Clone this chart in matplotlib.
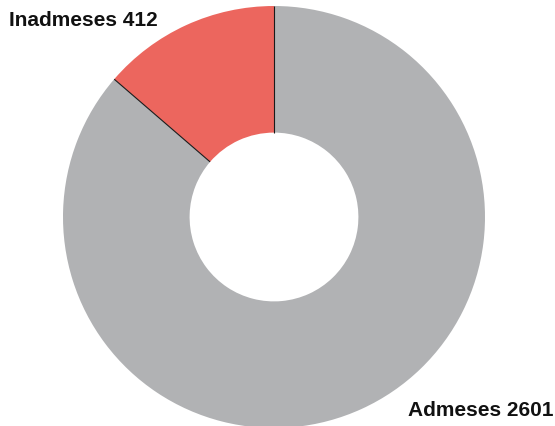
import matplotlib
matplotlib.use('Agg')
import matplotlib.pyplot as plt
import numpy as np

# datos
labels = ['Inadmeses', 'Admeses']
values = [412, 2601]
colors = ['#ec665e', '#b1b2b4']

plt.rcParams['font.family'] = ['Liberation Sans', 'DejaVu Sans']

fig = plt.figure(figsize=(5.55, 4.27), dpi=100)
ax = fig.add_axes([63/555, -2/427, 422/555, 422/427])

wedges, _ = ax.pie(values, colors=colors, startangle=90, counterclock=True,
                   radius=1, wedgeprops=dict(width=0.6, linewidth=0))

# lineas finas en los bordes radiales del sector rojo
inner = 0.4
for ang in [90, 90 + 360 * values[0] / sum(values)]:
    t = np.deg2rad(ang)
    ax.plot([inner * np.cos(t), np.cos(t)], [inner * np.sin(t), np.sin(t)],
            color='#1a1a1a', lw=0.8, solid_capstyle='butt')

ax.set_xlim(-1, 1)
ax.set_ylim(-1, 1)
ax.set_aspect('equal')
ax.axis('off')

fig.text(9/555, 1 - 20.5/427, f'{labels[0]} {values[0]}', fontsize=15,
         fontweight='bold', ha='left', va='center', color='#111111')
fig.text(553/555, 1 - 411/427, f'{labels[1]} {values[1]}', fontsize=15,
         fontweight='bold', ha='right', va='center', color='#111111')

fig.savefig('out.png', dpi=100)
